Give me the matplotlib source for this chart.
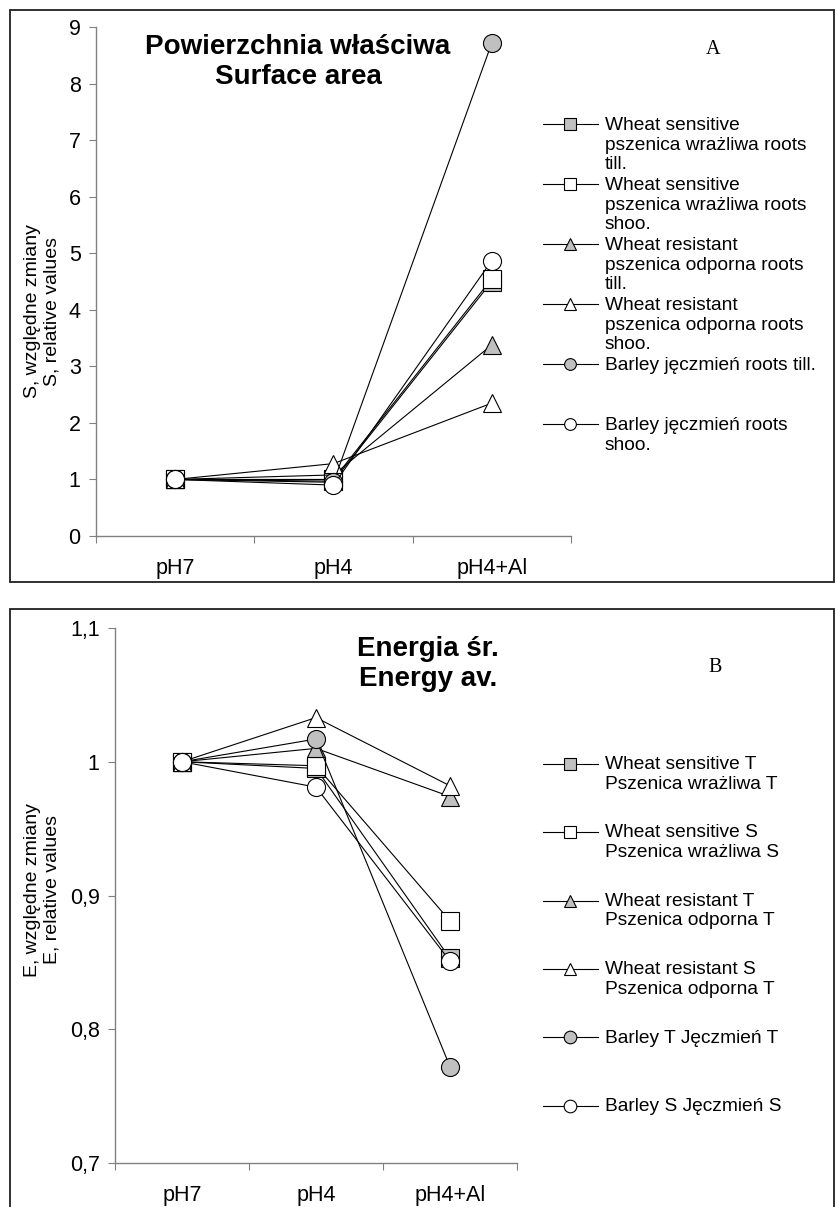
import numpy as np
import matplotlib
matplotlib.use('Agg')
import matplotlib.pyplot as plt
from matplotlib.lines import Line2D
from matplotlib.legend_handler import HandlerLine2D

plt.rcParams['font.family'] = ['Liberation Sans', 'DejaVu Sans']

categories = ['pH7', 'pH4', 'pH4+Al']

# A - surface area (relative values)
a_ws_till = [1.0, 0.97, 4.50]
a_ws_shoo = [1.0, 1.00, 4.55]
a_wr_till = [1.0, 1.08, 3.38]
a_wr_shoo = [1.0, 1.28, 2.35]
a_b_till = [1.0, 0.95, 8.72]
a_b_shoo = [1.0, 0.90, 4.87]
a_labels = ['Wheat sensitive\npszenica wrażliwa roots\ntill.',
            'Wheat sensitive\npszenica wrażliwa roots\nshoo.',
            'Wheat resistant\npszenica odporna roots\ntill.',
            'Wheat resistant\npszenica odporna roots\nshoo.',
            'Barley jęczmień roots till.\n \n ',
            'Barley jęczmień roots\nshoo.\n ']
a_yticks = [0, 1, 2, 3, 4, 5, 6, 7, 8, 9]

# B - average energy (relative values)
b_ws_t = [1.0, 0.995, 0.853]
b_ws_s = [1.0, 0.997, 0.881]
b_wr_t = [1.0, 1.010, 0.974]
b_wr_s = [1.0, 1.033, 0.982]
b_b_t = [1.0, 1.017, 0.772]
b_b_s = [1.0, 0.981, 0.851]
b_labels = ['Wheat sensitive T\nPszenica wrażliwa T',
            'Wheat sensitive S\nPszenica wrażliwa S',
            'Wheat resistant T\nPszenica odporna T',
            'Wheat resistant S\nPszenica odporna T',
            'Barley T Jęczmień T\n ',
            'Barley S Jęczmień S\n ']
b_yticks = [0.7, 0.8, 0.9, 1.0, 1.1]
b_yticklabels = ['0,7', '0,8', '0,9', '1', '1,1']

gray = '#c0c0c0'
styles = [('s', gray), ('s', 'white'), ('^', gray), ('^', 'white'), ('o', gray), ('o', 'white')]
W, H = 837, 1207


class FirstLineHandler(HandlerLine2D):
    # put the legend sample next to the first text line, not the middle
    def __init__(self, lift, **kw):
        super().__init__(**kw)
        self.lift = lift

    def create_artists(self, legend, orig_handle, xdescent, ydescent,
                       width, height, fontsize, trans):
        return super().create_artists(legend, orig_handle, xdescent, ydescent - 2 * self.lift,
                                      width, height, fontsize, trans)


def setup_axis(ax, yticks, yticklabels=None):
    x = np.arange(len(categories))
    ax.set_xlim(-0.5, len(categories) - 0.5)
    ax.set_xticks(np.arange(len(categories) + 1) - 0.5)
    ax.set_xticklabels([])
    ax.set_xticks(x, minor=True)
    ax.set_xticklabels(categories, minor=True, fontsize=15.5)
    ax.tick_params(axis='x', which='minor', length=0, pad=16)
    ax.tick_params(axis='x', which='major', length=5, color='#808080', direction='out')
    ax.set_yticks(yticks)
    if yticklabels is not None:
        ax.set_yticklabels(yticklabels)
    ax.tick_params(axis='y', length=5, color='#808080', labelsize=15.5, pad=6)
    for s in ['top', 'right']:
        ax.spines[s].set_visible(False)
    for s in ['left', 'bottom']:
        ax.spines[s].set_color('#808080')
        ax.spines[s].set_linewidth(1.0)


fig = plt.figure(figsize=(W / 100, H / 100), dpi=100)

# panel frames
fig.add_artist(plt.Rectangle((10 / W, 1 - 582 / H), 824 / W, 572 / H, transform=fig.transFigure,
                             fill=False, edgecolor='#202020', lw=1.3))
fig.add_artist(plt.Rectangle((10 / W, -0.05), 824 / W, 1 - 609 / H + 0.05, transform=fig.transFigure,
                             fill=False, edgecolor='#202020', lw=1.3))

# ---- A ----
axA = fig.add_axes([96 / W, 1 - 536 / H, 475 / W, 509 / H])
x = np.arange(len(categories))
a_series = [a_ws_till, a_ws_shoo, a_wr_till, a_wr_shoo, a_b_till, a_b_shoo]
for vals, (m, fc) in zip(a_series, styles):
    axA.plot(x, vals, color='black', lw=0.8, marker=m, ms=13, mfc=fc, mec='black', mew=0.8)
axA.set_ylim(0, 9)
setup_axis(axA, a_yticks)
legA = axA.legend(a_labels, loc='upper left', bbox_to_anchor=(543 / W, 1 - 117 / H),
                  bbox_transform=fig.transFigure, frameon=False, fontsize=13.8,
                  handlelength=2.86, handletextpad=0.35, labelspacing=0.2,
                  borderpad=0, borderaxespad=0, markerscale=0.65,
                  handler_map={Line2D: FirstLineHandler(15)})

fig.text(298 / W, 1 - 62 / H, 'Powierzchnia właściwa\nSurface area', ha='center', va='center',
         fontsize=20, fontweight='bold', linespacing=1.25)
fig.text(713 / W, 1 - 50 / H, 'A', ha='center', va='center', fontsize=14.5,
         family=['Liberation Serif', 'DejaVu Serif'])
fig.text(42 / W, 1 - 311 / H, 'S, względne zmiany\nS, relative values', rotation=90,
         ha='center', va='center', fontsize=14)

# ---- B ----
axB = fig.add_axes([115 / W, 1 - 1163 / H, 402 / W, 535 / H])
b_series = [b_ws_t, b_ws_s, b_wr_t, b_wr_s, b_b_t, b_b_s]
for vals, (m, fc) in zip(b_series, styles):
    axB.plot(x, vals, color='black', lw=0.8, marker=m, ms=13, mfc=fc, mec='black', mew=0.8)
axB.set_ylim(0.7, 1.1)
setup_axis(axB, b_yticks, b_yticklabels)
legB = axB.legend(b_labels, loc='upper left', bbox_to_anchor=(543 / W, 1 - 756 / H),
                  bbox_transform=fig.transFigure, frameon=False, fontsize=13.8,
                  handlelength=2.86, handletextpad=0.35, labelspacing=1.66,
                  borderpad=0, borderaxespad=0, markerscale=0.7,
                  handler_map={Line2D: FirstLineHandler(7.5)})

fig.text(428 / W, 1 - 664 / H, 'Energia śr.\nEnergy av.', ha='center', va='center',
         fontsize=20, fontweight='bold', linespacing=1.25)
fig.text(715 / W, 1 - 668 / H, 'B', ha='center', va='center', fontsize=14.5,
         family=['Liberation Serif', 'DejaVu Serif'])
fig.text(42 / W, 1 - 890 / H, 'E, względne zmiany\nE, relative values', rotation=90,
         ha='center', va='center', fontsize=14)

fig.savefig('out.png', dpi=100)
